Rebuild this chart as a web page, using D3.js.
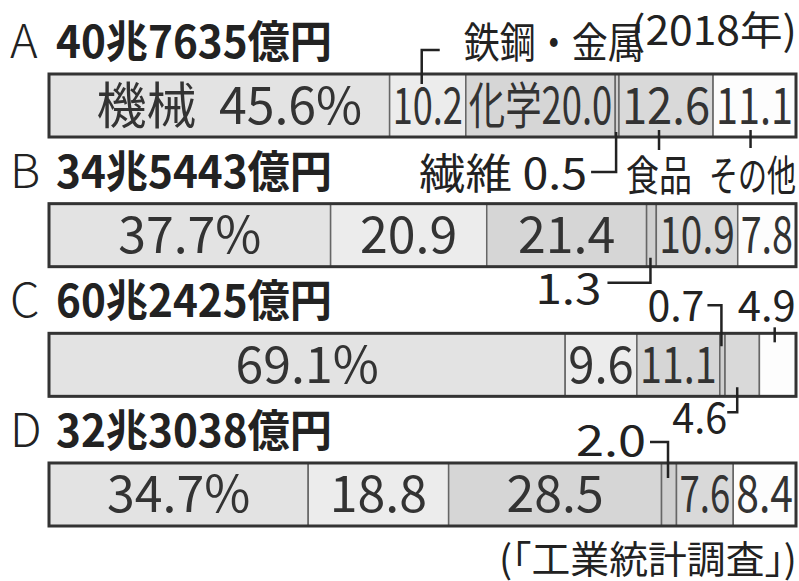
<!DOCTYPE html>
<html>
<head>
<meta charset="utf-8">
<script src="https://cdn.jsdelivr.net/npm/d3@7"></script>
<style>
  html, body { margin: 0; padding: 0; background: #fff; }
  svg { display: block; font-family: "Noto Sans CJK JP", "Noto Sans", sans-serif; }
</style>
</head>
<body>
<div id="chart"></div>
<script>
const rows = ["A", "B", "C", "D"];
const totals = ["40兆7635億円", "34兆5443億円", "60兆2425億円", "32兆3038億円"];
const categories = ["機械", "鉄鋼・金属", "化学", "繊維", "食品", "その他"];

// shares (%) per row A..D
const machinery  = [45.6, 37.7, 69.1, 34.7];
const steelMetal = [10.2, 20.9, 9.6, 18.8];
const chemical   = [20.0, 21.4, 11.1, 28.5];
const textile    = [0.5, 1.3, 0.7, 2.0];
const food       = [12.6, 10.9, 4.6, 7.6];
const other      = [11.1, 7.8, 4.9, 8.4];

const yearNote = "(2018年)";
const sourceNote = "(「工業統計調査」)";

(function () {
  const width = 799, height = 581;
  const series = [machinery, steelMetal, chemical, textile, food, other];
  const fills = ["#e3e3e3", "#ececec", "#d6d6d6", "#cfcfcf", "#d9d9d9", "#fdfdfd"];

  const data = rows.map((r, i) => {
    let acc = 0;
    const segs = categories.map((c, j) => {
      const v = series[j][i];
      const s = { row: r, cat: c, ci: j, value: v, x0: acc, x1: acc + v };
      acc += v;
      return s;
    });
    return { row: r, total: totals[i], segs };
  });

  const svg = d3.select("#chart").append("svg")
    .attr("width", width).attr("height", height)
    .attr("viewBox", `0 0 ${width} ${height}`);

  const x = d3.scaleLinear().domain([0, 100]).range([49, 796]);
  const y = d3.scaleBand().domain(rows).range([74, 526]).paddingInner(0.514).paddingOuter(0);

  // row titles
  const titles = svg.append("g").selectAll("g").data(data).join("g")
    .attr("transform", d => `translate(0,${y(d.row) - 16})`);
  titles.append("text")
    .attr("x", 10).attr("font-size", 47).attr("font-weight", 300).attr("fill", "#222")
    .text(d => d.row);
  titles.append("text")
    .attr("x", 56).attr("font-size", 44).attr("font-weight", 700).attr("fill", "#222")
    .attr("textLength", 276).attr("lengthAdjust", "spacingAndGlyphs")
    .text(d => d.total);

  // bars
  const bars = svg.append("g").selectAll("g").data(data).join("g");
  bars.selectAll("rect").data(d => d.segs).join("rect")
    .attr("x", d => x(d.x0))
    .attr("y", d => y(d.row))
    .attr("width", d => Math.max(0, x(d.x1) - x(d.x0)))
    .attr("height", y.bandwidth())
    .attr("fill", d => fills[d.ci])
    .attr("stroke", "#666").attr("stroke-width", 1.5);
  bars.append("rect")
    .attr("x", x(0)).attr("y", d => y(d.row))
    .attr("width", x(100) - x(0)).attr("height", y.bandwidth())
    .attr("fill", "none").attr("stroke", "#333").attr("stroke-width", 3);

  // inside labels
  const inside = {
    A: ["機械\u00a0\u00a045.6%", "10.2", "化学20.0", null, "12.6", "11.1"],
    B: ["37.7%", "20.9", "21.4", null, "10.9", "7.8"],
    C: ["69.1%", "9.6", "11.1", null, null, null],
    D: ["34.7%", "18.8", "28.5", null, "7.6", "8.4"]
  };
  const labelData = data.flatMap(d => d.segs.filter(s => inside[d.row][s.ci]));
  svg.append("g").selectAll("text").data(labelData).join("text")
    .attr("x", d => (x(d.x0) + x(d.x1)) / 2 + (d.row === "A" && d.ci === 0 ? 10 : 0))
    .attr("y", d => y(d.row) + y.bandwidth() / 2 + 18)
    .attr("text-anchor", "middle")
    .attr("font-size", 50).attr("fill", "#333")
    .text(d => inside[d.row][d.ci])
    .each(function (d) {
      const w = x(d.x1) - x(d.x0) - 6;
      const nat = this.getComputedTextLength();
      if (nat > w) d3.select(this).attr("textLength", w).attr("lengthAdjust", "spacingAndGlyphs");
    });

  // callouts: leader path points relative to segment center / bar edges
  const seg = (r, ci) => data[rows.indexOf(r)].segs[ci];
  const cx = s => (x(s.x0) + x(s.x1)) / 2;
  const top = r => y(r), bot = r => y(r) + y.bandwidth();
  const callouts = [
    { s: seg("A", 1), pts: (c, r) => [[c - 6, top(r) + 10], [c - 6, top(r) - 24], [c + 12, top(r) - 24]],
      text: "鉄鋼・金属", tx: c => c + 36, ty: r => top(r) - 16, anchor: "start", len: 180 },
    { s: seg("A", 3), pts: (c, r) => [[c - 1, bot(r) - 5], [c - 1, bot(r) + 35], [c - 26, bot(r) + 35]],
      text: "繊維 0.5", tx: c => c - 30, ty: r => bot(r) + 52, anchor: "end", len: 168 },
    { s: seg("A", 4), pts: (c, r) => [[c - 7, bot(r) - 7], [c - 7, bot(r) + 13]],
      text: "食品", tx: c => c - 7, ty: r => bot(r) + 54, anchor: "middle", len: 66 },
    { s: seg("A", 5), pts: (c, r) => [[c - 4, bot(r) - 7], [c - 4, bot(r) + 11]],
      text: "その他", tx: c => c - 2, ty: r => bot(r) + 54, anchor: "middle", len: 87 },
    { s: seg("B", 3), pts: (c, r) => [[c - 1, bot(r) - 9], [c - 1, bot(r) + 16], [c - 44, bot(r) + 16]],
      text: "1.3", tx: c => c - 50, ty: r => bot(r) + 37, anchor: "end", len: 66 },
    { s: seg("C", 3), pts: (c, r) => [[c - 15, top(r) - 28], [c - 1, top(r) - 28], [c - 1, top(r) + 13]],
      text: "0.7", tx: c => c - 18, ty: r => top(r) - 12, anchor: "end", len: 57 },
    { s: seg("C", 5), pts: (c, r) => [[c - 3, top(r) - 6], [c - 3, top(r) + 9]],
      text: "4.9", tx: c => c - 11, ty: r => top(r) - 12, anchor: "middle", len: 58 },
    { s: seg("C", 4), pts: (c, r) => [[c - 5, bot(r) - 9], [c - 5, bot(r) + 16], [c - 15, bot(r) + 16]],
      text: "4.6", tx: c => c - 15, ty: r => bot(r) + 37, anchor: "end", len: 55 },
    { s: seg("D", 3), pts: (c, r) => [[c - 1, top(r) + 15], [c - 1, top(r) - 21], [c - 19, top(r) - 21]],
      text: "2.0", tx: c => c - 23, ty: r => top(r) - 7, anchor: "end", len: 70 }
  ];
  const co = svg.append("g").selectAll("g").data(callouts).join("g");
  co.append("path")
    .attr("d", d => d3.line()(d.pts(cx(d.s), d.s.row)))
    .attr("fill", "none").attr("stroke", "#222").attr("stroke-width", 2.5);
  co.append("text")
    .attr("x", d => d.tx(cx(d.s)))
    .attr("y", d => d.ty(d.s.row))
    .attr("text-anchor", d => d.anchor)
    .attr("font-size", 42).attr("fill", "#222")
    .attr("textLength", d => d.len).attr("lengthAdjust", "spacingAndGlyphs")
    .text(d => d.text);

  // notes
  svg.append("text")
    .attr("x", 797).attr("y", 45).attr("text-anchor", "end")
    .attr("font-size", 40).attr("fill", "#222")
    .attr("textLength", 166).attr("lengthAdjust", "spacingAndGlyphs")
    .text(yearNote);
  svg.append("text")
    .attr("x", 797).attr("y", 573).attr("text-anchor", "end")
    .attr("font-size", 38).attr("fill", "#222")
    .attr("textLength", 298).attr("lengthAdjust", "spacingAndGlyphs")
    .text(sourceNote);
})();
</script>
</body>
</html>
